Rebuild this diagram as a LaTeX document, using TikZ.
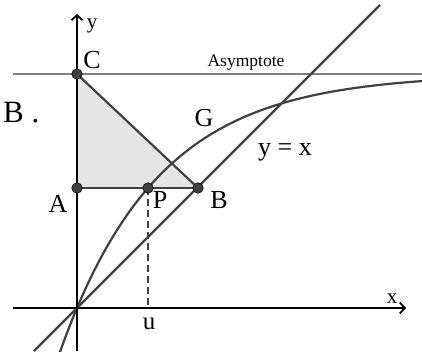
\documentclass[tikz,border=0pt]{standalone}
\usepackage{fontspec}
\setmainfont{Liberation Serif}
\usetikzlibrary{arrows.meta}
\definecolor{dgray}{RGB}{64,64,64}
\definecolor{agray}{RGB}{128,128,128}
\definecolor{tfill}{RGB}{229,229,229}
\tikzset{
  lbl/.style={anchor=base, inner sep=0pt, font=\fontsize{26}{26}\selectfont},
  axlbl/.style={anchor=base, inner sep=0pt, font=\fontsize{21}{21}\selectfont},
  pt/.style={circle, fill=dgray, draw=black, line width=0.6pt, minimum size=10.5pt, inner sep=0pt},
  gline/.style={draw=dgray, line width=2.2pt},
  axis/.style={draw=black, line width=2.2pt, -{Straight Barb[length=5pt,width=11pt,line width=1.8pt]}},
}
\begin{document}
\begin{tikzpicture}[x=1pt,y=1pt]
\useasboundingbox (-77,-43) rectangle (345,308);
% points (coordinates first)
\coordinate (O) at (0,0);
\coordinate (Ac) at (0,120);
\coordinate (Cc) at (0,234);
\coordinate (Bc) at (121,120);
\coordinate (Pc) at (71,120);
\coordinate (U) at (71,0);
% triangle fill
\fill[tfill] (Ac) -- (Cc) -- (Bc) -- cycle;
% asymptote
\coordinate (As1) at (-64,234);
\coordinate (As2) at (345,234);
\draw[agray, line width=2.2pt] (As1) -- (As2);
% curve G
\draw[gline, smooth, samples=120, domain=-18:345] plot (\x, {234*(1-exp(-0.01013*\x))});
% line y = x
\coordinate (L1) at (-43,-43);
\coordinate (L2) at (303,303);
\draw[gline] (L1) -- (L2);
% triangle edges
\draw[gline] (Cc) -- (Bc);
\draw[gline] (Ac) -- (Bc);
% dashed
\draw[dgray, line width=1.8pt, dash pattern=on 7pt off 4pt] (Pc) -- (U);
% axes
\coordinate (X1) at (-64,0);
\coordinate (X2) at (329,0);
\coordinate (Y1) at (0,-43);
\coordinate (Y2) at (0,294);
\draw[axis] (X1) -- (X2);
\draw[axis] (Y1) -- (Y2);
% points
\node[pt] (A) at (Ac) {};
\node[pt] (C) at (Cc) {};
\node[pt] (B) at (Bc) {};
\node[pt] (P) at (Pc) {};
% labels
\node[lbl] (lC) at (15,239) {C};
\node[lbl] (lA) at (-19,96) {A};
\node[lbl] (lP) at (83,100) {P};
\node[lbl] (lB) at (142,100) {B};
\node[lbl] (lG) at (127,181) {G};
\node[anchor=base, inner sep=0pt, font=\fontsize{25}{25}\selectfont] (lu) at (72,-21) {u};
\node[axlbl] (lx) at (315,5) {x};
\node[axlbl] (ly) at (15,279) {y};
\node[anchor=base, inner sep=0pt, font=\fontsize{17.5}{17.5}\selectfont] (lAs) at (169,241) {Asymptote};
\node[lbl] (lyx) at (208,153) {y = x};
\node[anchor=base west, inner sep=0pt, font=\fontsize{31}{31}\selectfont] (lB2) at (-74,185) {B .};
\end{tikzpicture}
\end{document}
